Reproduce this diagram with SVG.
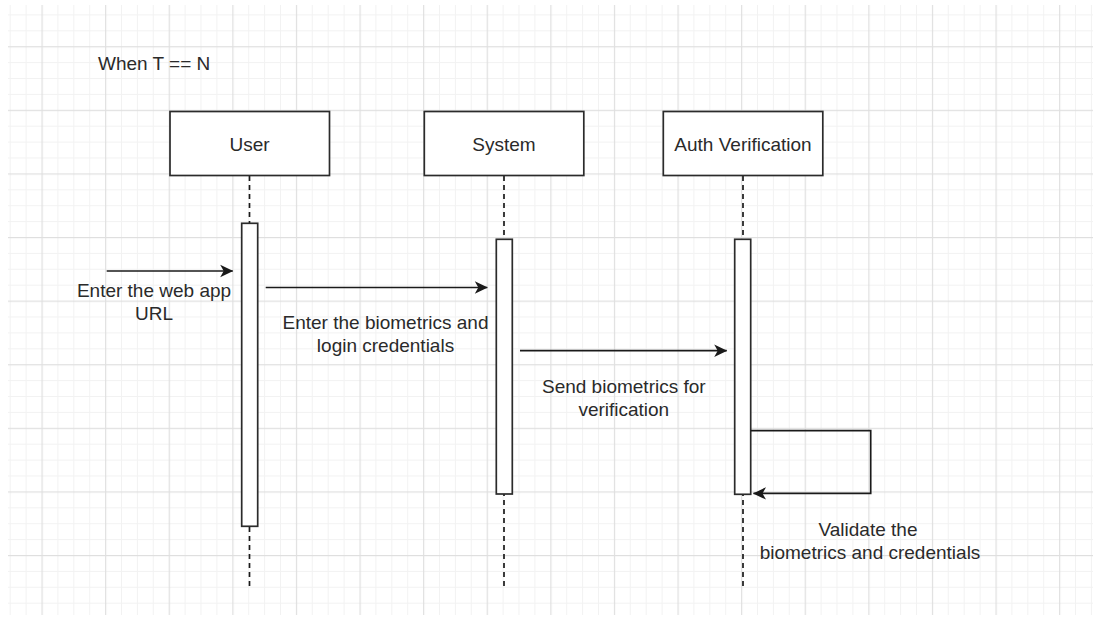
<svg xmlns="http://www.w3.org/2000/svg" width="1093" height="617" viewBox="0 0 1093 617">
  <style>
    .box { fill: #ffffff; stroke: #2b2b2b; stroke-width: 1.7; }
    .act { fill: #ffffff; stroke: #2b2b2b; stroke-width: 1.7; }
    .life { fill: none; stroke: #1a1a1a; stroke-width: 1.7; stroke-dasharray: 5 4; }
    .msg { fill: none; stroke: #1a1a1a; stroke-width: 1.7; }
    text { font-family: "Liberation Sans", Arial, sans-serif; font-size: 19px; fill: #2a2a2a; }
    .c { text-anchor: middle; }
  </style>
  <defs>
    <pattern id="grid" x="41.5" y="46.2" width="63.6" height="63.6" patternUnits="userSpaceOnUse">
      <rect x="15.9" y="0" width="1" height="63.6" fill="#f2f2f2"/>
      <rect x="31.8" y="0" width="1" height="63.6" fill="#f2f2f2"/>
      <rect x="47.7" y="0" width="1" height="63.6" fill="#f2f2f2"/>
      <rect x="0" y="15.9" width="63.6" height="1" fill="#f2f2f2"/>
      <rect x="0" y="31.8" width="63.6" height="1" fill="#f2f2f2"/>
      <rect x="0" y="47.7" width="63.6" height="1" fill="#f2f2f2"/>
      <rect x="0" y="0" width="1.2" height="63.6" fill="#dfdfdf"/>
      <rect x="0" y="0" width="63.6" height="1.2" fill="#dfdfdf"/>
    </pattern>
    <marker id="arrow" viewBox="0 0 14 14" refX="13" refY="7" markerWidth="14" markerHeight="14" markerUnits="userSpaceOnUse" orient="auto">
      <path d="M0.5,0.8 L13.5,7 L0.5,13.2 L4,7 Z" fill="#1a1a1a"/>
    </marker>
  </defs>

  <rect x="0" y="0" width="1093" height="617" fill="#ffffff"/>
  <rect x="8" y="5" width="1085" height="610" fill="url(#grid)"/>

  <g id="title">
    <text x="98" y="70">When T == N</text>
  </g>

  <g id="lifelines">
    <line class="life" x1="249.5" y1="176" x2="249.5" y2="590"/>
    <line class="life" x1="504" y1="176" x2="504" y2="590"/>
    <line class="life" x1="743" y1="176" x2="743" y2="590"/>
  </g>

  <g id="user">
    <rect class="box" x="170" y="111.5" width="159.5" height="64"/>
    <text class="c" x="249.5" y="151">User</text>
    <rect class="act" x="241.7" y="223.3" width="16" height="303"/>
  </g>

  <g id="system">
    <rect class="box" x="424.3" y="111.5" width="159.5" height="64"/>
    <text class="c" x="504" y="151">System</text>
    <rect class="act" x="496.3" y="239.3" width="16" height="254.7"/>
  </g>

  <g id="auth-verification">
    <rect class="box" x="663.3" y="111.5" width="159.5" height="64"/>
    <text class="c" x="743" y="151">Auth Verification</text>
    <rect class="act" x="734.7" y="239.3" width="16" height="255"/>
  </g>

  <g id="connectors">
    <line class="msg" x1="106.7" y1="271" x2="232.7" y2="271" marker-end="url(#arrow)"/>
    <line class="msg" x1="265.7" y1="287.5" x2="487.3" y2="287.5" marker-end="url(#arrow)"/>
    <line class="msg" x1="520" y1="350.7" x2="726.7" y2="350.7" marker-end="url(#arrow)"/>
    <polyline class="msg" points="750.7,430.7 870.7,430.7 870.7,493.4 753.5,493.4" marker-end="url(#arrow)"/>
  </g>

  <g id="labels">
    <text class="c" x="154" y="296.5">Enter the web app</text>
    <text class="c" x="154" y="319.5">URL</text>
    <text class="c" x="385.5" y="329">Enter the biometrics and</text>
    <text class="c" x="385.5" y="352">login credentials</text>
    <text class="c" x="623.8" y="392.7">Send biometrics for</text>
    <text class="c" x="623.8" y="415.5">verification</text>
    <text class="c" x="868" y="536">Validate the</text>
    <text class="c" x="870" y="558.5">biometrics and credentials</text>
  </g>
</svg>
